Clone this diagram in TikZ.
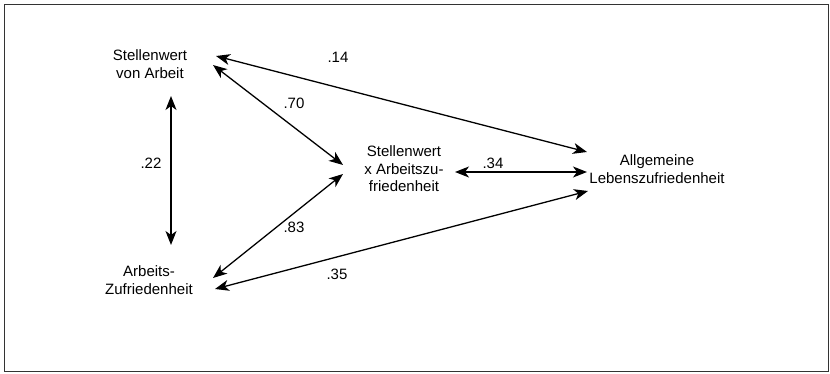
\documentclass[tikz,border=0pt]{standalone}
\usepackage{fontspec}
\setmainfont{Liberation Sans}
\usetikzlibrary{arrows.meta}

\tikzset{
  var/.style={align=center, inner sep=0pt, font=\fontsize{15}{17.5}\selectfont},
  coef/.style={inner sep=0pt, font=\fontsize{15}{17.5}\selectfont},
  corr/.style={{Stealth[length=14pt,width=11pt,inset=4pt]}-{Stealth[length=14pt,width=11pt,inset=4pt]}, line width=1.3pt}
}

\begin{document}
\begin{tikzpicture}[x=1pt, y=-1pt]
  \useasboundingbox (0,0) rectangle (830,374);
  % rahmen
  \draw[line width=1pt, black!80] (4,5) rectangle (828,371);
  % variablen
  \node[var] (wert) at (150,64) {Stellenwert\\von Arbeit};
  \node[var] (zuf)  at (149,280) {Arbeits-\\Zufriedenheit};
  \node[var] (inter) at (404,169) {Stellenwert\\x Arbeitszu-\\friedenheit};
  \node[var] (leben) at (657,169) {Allgemeine\\Lebenszufriedenheit};
  % korrelationen
  \draw[corr] ([shift={(66,-8)}]wert.center) -- ([shift={(-70,-17)}]leben.center);
  \draw[corr] ([shift={(63,1)}]wert.center) -- ([shift={(-61,-4)}]inter.center);
  \draw[corr] ([shift={(21,32)}]wert.center) -- ([shift={(22,-35)}]zuf.center);
  \draw[corr] ([shift={(64,-2)}]zuf.center) -- ([shift={(-61,5)}]inter.center);
  \draw[corr] ([shift={(66,9)}]zuf.center) -- ([shift={(-69,22)}]leben.center);
  \draw[corr] ([shift={(51,3)}]inter.center) -- ([shift={(-70,3)}]leben.center);
  % koeffizienten
  \node[coef] (c14) at (338,57) {.14};
  \node[coef] (c70) at (294,103) {.70};
  \node[coef] (c22) at (151,163) {.22};
  \node[coef] (c83) at (294,227) {.83};
  \node[coef] (c35) at (337,274) {.35};
  \node[coef] (c34) at (493,163) {.34};
\end{tikzpicture}
\end{document}
